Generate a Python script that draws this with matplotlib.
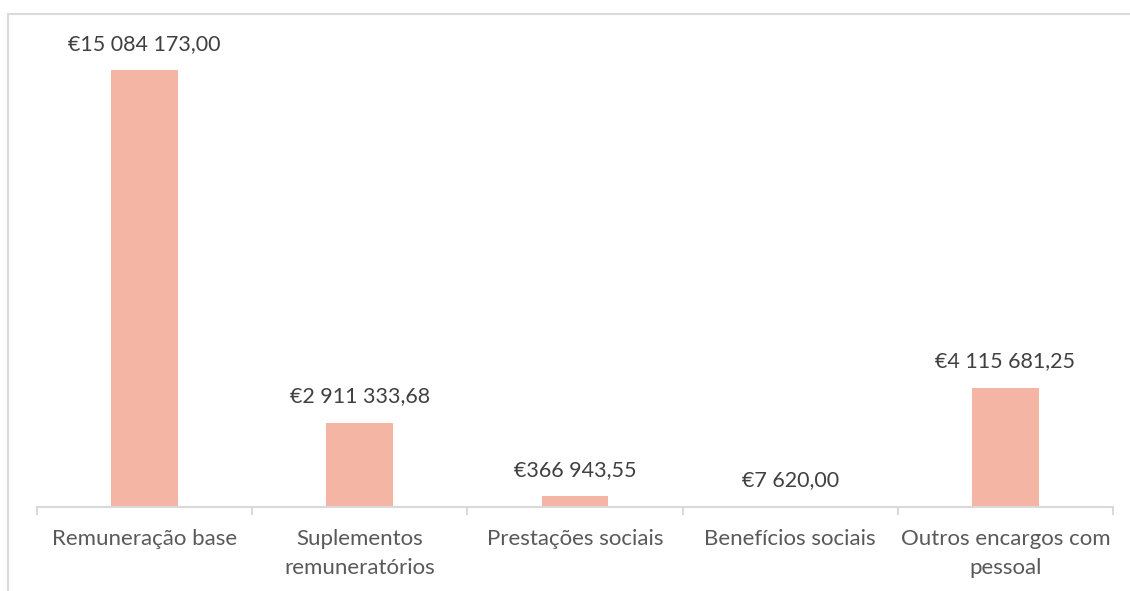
import matplotlib
matplotlib.use("Agg")
import matplotlib.pyplot as plt
from matplotlib.patches import Rectangle
from matplotlib.ticker import FixedLocator

categories = ["Remuneração base", "Suplementos\nremuneratórios", "Prestações sociais",
              "Benefícios sociais", "Outros encargos com\npessoal"]
values = [15084173.00, 2911333.68, 366943.55, 7620.00, 4115681.25]
labels = ["€15 084 173,00", "€2 911 333,68", "€366 943,55", "€7 620,00", "€4 115 681,25"]

plt.rcParams['font.family'] = ['Lato', 'DejaVu Sans']

W, H = 1130, 591
fig = plt.figure(figsize=(W / 100, H / 100), dpi=100)

# outer chart border (cropped at right/bottom)
fig.patches.append(Rectangle((8 / W, -0.1), 1.2, (591 - 14) / H + 0.1, transform=fig.transFigure,
                             fill=False, edgecolor="#d9d9d9", linewidth=1.5))

ax_left, ax_right = 37, 1113
ax_top, ax_bottom = 20, 507
ax = fig.add_axes([ax_left / W, 1 - ax_bottom / H, (ax_right - ax_left) / W, (ax_bottom - ax_top) / H])

x = list(range(len(categories)))
ax.bar(x, values, width=0.31, color="#f5b5a4")
ax.set_xlim(-0.5, len(categories) - 0.5)
ax.set_ylim(0, values[0] * (ax_bottom - ax_top) / 437)

for xi, v, lab in zip(x, values, labels):
    ax.annotate(lab, (xi, v), xytext=(0, 19), textcoords="offset points",
                ha="center", va="center", fontsize=15.5, color="#404040")

for s in ["top", "right", "left"]:
    ax.spines[s].set_visible(False)
ax.spines["bottom"].set_color("#d9d9d9")
ax.spines["bottom"].set_linewidth(1.5)
ax.set_yticks([])
ax.set_xticks(x)
ax.set_xticklabels(categories, fontsize=16, color="#595959", linespacing=1.55, va="top")
ax.tick_params(axis="x", length=0, pad=16)
ax.xaxis.set_minor_locator(FixedLocator([i - 0.5 for i in range(len(categories) + 1)]))
ax.tick_params(axis="x", which="minor", length=6, width=1.5, color="#d9d9d9")

fig.savefig("out.png", dpi=100, facecolor="white")
